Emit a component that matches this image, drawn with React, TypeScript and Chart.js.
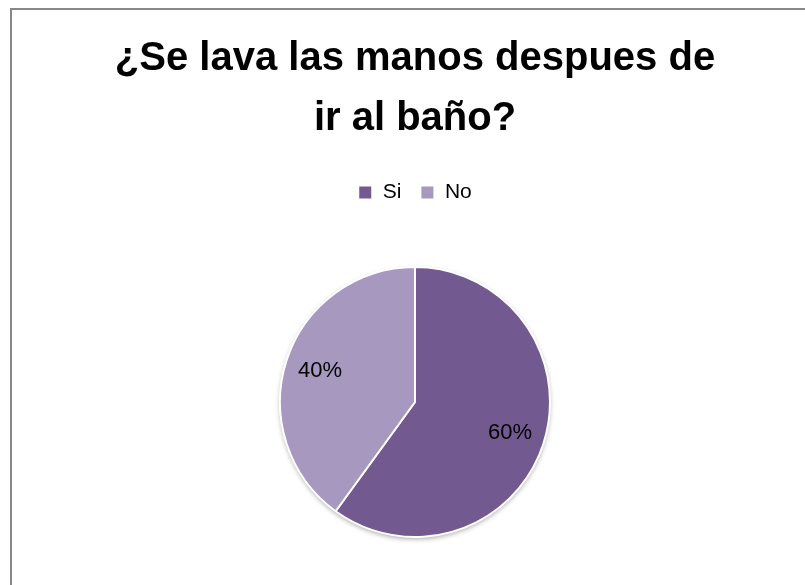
import React, { useEffect, useRef } from "react";
import { Chart, registerables } from "chart.js";

Chart.register(...registerables);

const titleLines = ["¿Se lava las manos despues de", "ir al baño?"];
const categories = ["Si", "No"];
const values = [60, 40];
const percentLabels = ["60%", "40%"];
const colors = ["#72598f", "#a698be"];

const FONT = "'Liberation Sans', Arial, sans-serif";

const pieExtras = {
  id: "pieExtras",
  beforeDatasetsDraw(chart: any) {
    const meta = chart.getDatasetMeta(0);
    const arc = meta.data[0];
    if (!arc) return;
    const { x, y, outerRadius } = arc.getProps(["x", "y", "outerRadius"], true);
    const ctx = chart.ctx;
    ctx.save();
    ctx.shadowColor = "rgba(0,0,0,0.35)";
    ctx.shadowBlur = 5;
    ctx.shadowOffsetY = 2;
    ctx.fillStyle = "#ffffff";
    ctx.beginPath();
    ctx.arc(x, y, outerRadius, 0, Math.PI * 2);
    ctx.fill();
    ctx.restore();
  },
  afterDatasetsDraw(chart: any) {
    const meta = chart.getDatasetMeta(0);
    const ctx = chart.ctx;
    ctx.save();
    ctx.font = `22px ${FONT}`;
    ctx.fillStyle = "#000000";
    ctx.textAlign = "center";
    ctx.textBaseline = "middle";
    meta.data.forEach((arc: any, i: number) => {
      const { x, y, startAngle, endAngle, outerRadius } = arc.getProps(
        ["x", "y", "startAngle", "endAngle", "outerRadius"],
        true
      );
      const mid = (startAngle + endAngle) / 2;
      const r = outerRadius * 0.74;
      ctx.fillText(percentLabels[i], x + Math.cos(mid) * r, y + Math.sin(mid) * r);
    });
    ctx.restore();
  },
};

export default function App() {
  const ref = useRef<HTMLCanvasElement>(null);
  useEffect(() => {
    document.body.style.margin = "0";
    const chart = new Chart(ref.current!, {
      type: "pie",
      data: {
        labels: categories,
        datasets: [
          {
            data: values,
            backgroundColor: colors,
            borderColor: "#ffffff",
            borderWidth: 2,
            radius: 135,
          },
        ],
      },
      options: {
        animation: false,
        responsive: true,
        maintainAspectRatio: false,
        layout: { padding: { top: 0, bottom: 9, left: 0, right: 0 } },
        plugins: {
          title: {
            display: true,
            text: titleLines,
            color: "#000000",
            font: { family: FONT, size: 40, weight: "bold", lineHeight: 1.5 },
            padding: { top: 19, bottom: 14 },
          },
          legend: {
            display: true,
            position: "top",
            labels: {
              color: "#000000",
              font: { family: FONT, size: 21 },
              boxWidth: 14,
              boxHeight: 14,
              padding: 19,
            },
          },
          tooltip: { enabled: false },
        },
      },
      plugins: [pieExtras],
    });
    return () => chart.destroy();
  }, []);

  return (
    <div style={{ position: "relative", width: 805, height: 585, overflow: "hidden", background: "#fff" }}>
      <div
        style={{
          position: "absolute",
          left: 10,
          top: 8,
          width: 806,
          height: 600,
          borderTop: "2px solid #878787",
          borderLeft: "2px solid #878787",
        }}
      >
        <div style={{ position: "relative", width: 806, height: 590 }}>
          <canvas ref={ref} />
        </div>
      </div>
    </div>
  );
}
